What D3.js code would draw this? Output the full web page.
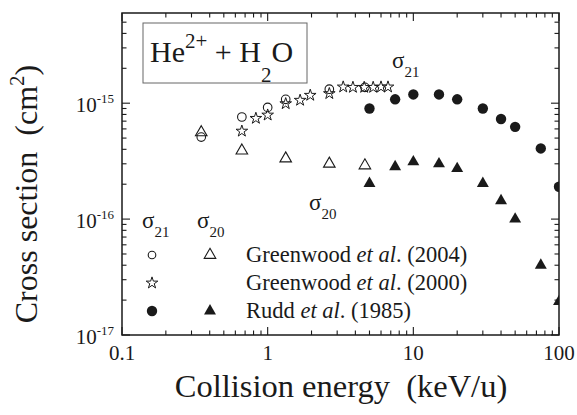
<!DOCTYPE html>
<html><head><meta charset="utf-8">
<script src="https://cdn.jsdelivr.net/npm/d3@7"></script>
<style>body{margin:0;background:#fff}svg{display:block}</style>
</head><body><svg id="c" width="577" height="415"></svg>
<script>
// Greenwood et al. (2004)
const g04E21 = [0.35, 0.665, 1.0, 1.33, 2.65, 4.65];
const g04S21 = [5.1e-16, 7.6e-16, 9.2e-16, 1.08e-15, 1.32e-15, 1.37e-15];
const g04E20 = [0.35, 0.665, 1.33, 2.65, 4.65];
const g04S20 = [5.6e-16, 3.9e-16, 3.33e-16, 3.0e-16, 2.9e-16];
// Greenwood et al. (2000)
const g00E21 = [0.665, 0.83, 1.0, 1.33, 1.67, 1.96, 2.65, 3.3, 3.85, 4.6, 5.3, 6.0, 6.7];
const g00S21 = [5.74e-16, 7.4e-16, 7.9e-16, 9.9e-16, 1.06e-15, 1.17e-15, 1.21e-15, 1.38e-15, 1.37e-15, 1.37e-15, 1.37e-15, 1.38e-15, 1.38e-15];
// Rudd et al. (1985)
const ruddE = [5, 7.5, 10, 15, 20, 30, 40, 50, 75, 100];
const ruddS21 = [9.0e-16, 1.08e-15, 1.19e-15, 1.19e-15, 1.08e-15, 9.0e-16, 7.3e-16, 6.25e-16, 4.07e-16, 1.9e-16];
const ruddS20 = [2.03e-16, 2.83e-16, 3.12e-16, 3.0e-16, 2.73e-16, 2.03e-16, 1.44e-16, 1.0e-16, 4.0e-17, 1.94e-17];
// ticks
const xMajor = [0.1, 1, 10, 100];
const xMajorLabels = ["0.1", "1", "10", "100"];
const yMajor = [1e-17, 1e-16, 1e-15];
const yMajorExp = ["-17", "-16", "-15"];
const legendLabels = [["Greenwood ", "et al", ". (2004)"], ["Greenwood ", "et al", ". (2000)"], ["Rudd ", "et al", ". (1985)"]];

const FONT = "'Liberation Serif'";
const L = 122, R = 559, T = 13, B = 335;
const svg = d3.select("#c");
const x = d3.scaleLog().domain([0.1, 100]).range([L, R]);
const y = d3.scaleLog().domain([1e-17, 6e-15]).range([B, T]);
const ink = "#1a1a1a";
function txt(sel) { return sel.append("text").attr("font-family", FONT).attr("fill", ink); }

// minor ticks
const xMinor = [];
[0.1, 1, 10].forEach(d => { for (let k = 2; k <= 9; k++) xMinor.push(d * k); });
const yMinor = [];
[1e-17, 1e-16, 1e-15].forEach(d => { for (let k = 2; k <= 9; k++) if (d * k <= 6e-15) yMinor.push(d * k); });

const tk = svg.append("g").attr("stroke", ink).attr("stroke-width", 1.1);
function xt(vals, len) {
  vals.forEach(v => {
    tk.append("line").attr("x1", x(v)).attr("x2", x(v)).attr("y1", B).attr("y2", B - len);
    tk.append("line").attr("x1", x(v)).attr("x2", x(v)).attr("y1", T).attr("y2", T + len);
  });
}
function yt(vals, len) {
  vals.forEach(v => {
    tk.append("line").attr("y1", y(v)).attr("y2", y(v)).attr("x1", L).attr("x2", L + len);
    tk.append("line").attr("y1", y(v)).attr("y2", y(v)).attr("x1", R).attr("x2", R - len);
  });
}
xt(xMajor, 8); xt(xMinor, 4.5); yt(yMajor, 8); yt(yMinor, 4.5);

// frame
svg.append("rect").attr("x", L).attr("y", T).attr("width", R - L).attr("height", B - T)
  .attr("fill", "none").attr("stroke", ink).attr("stroke-width", 1.5);

// tick labels
xMajor.forEach((d, i) => {
  txt(svg).attr("x", x(d)).attr("y", 360).attr("text-anchor", "middle")
    .attr("font-size", 21).text(xMajorLabels[i]);
});
yMajor.forEach((d, i) => {
  const t = txt(svg).attr("x", 114).attr("y", y(d) + 9).attr("text-anchor", "end").attr("font-size", 21);
  t.append("tspan").text("10");
  t.append("tspan").attr("font-size", 13).attr("dy", -9).text(yMajorExp[i]);
});

// axis titles
txt(svg).attr("x", 341).attr("y", 397).attr("text-anchor", "middle")
  .attr("font-size", 32.5).attr("xml:space", "preserve").text("Collision energy  (keV/u)");
const yt2 = txt(svg).attr("transform", "translate(37,194) rotate(-90)").attr("text-anchor", "middle")
  .attr("font-size", 32).attr("xml:space", "preserve");
yt2.append("tspan").text("Cross section  (cm");
yt2.append("tspan").attr("font-size", 21).attr("dy", -13).text("2");
yt2.append("tspan").attr("dy", 13).text(")");

// title box
svg.append("rect").attr("x", 143).attr("y", 23).attr("width", 164).attr("height", 60)
  .attr("fill", "none").attr("stroke", "#666").attr("stroke-width", 1);
const tt = txt(svg).attr("x", 150).attr("y", 62).attr("font-size", 30).attr("xml:space", "preserve");
tt.append("tspan").text("He");
tt.append("tspan").attr("font-size", 21).attr("dy", -14).text("2+");
tt.append("tspan").attr("dy", 14).text(" + H");
tt.append("tspan").attr("font-size", 21).attr("dy", 20).text("2");
tt.append("tspan").attr("dy", -20).text("O");

// sigma labels
function sigma(xp, yp, sub) {
  const t = txt(svg).attr("x", xp).attr("y", yp).attr("font-size", 23);
  t.append("tspan").text("σ");
  t.append("tspan").attr("font-size", 15).attr("dy", 9).text(sub);
}
sigma(392, 68, "21");
sigma(309, 210, "20");
sigma(142, 228, "21");
sigma(197, 228, "20");

// symbols
svg.append("defs").append("clipPath").attr("id", "clip").append("rect")
  .attr("x", L).attr("y", T).attr("width", R - L).attr("height", B - T);
const P = svg.append("g").attr("clip-path", "url(#clip)");
const tri = d3.symbol().type(d3.symbolTriangle).size(58);
const triF = d3.symbol().type(d3.symbolTriangle).size(62);
const star = d3.symbol().type(d3.symbolStar).size(42);

P.selectAll(".g04c").data(g04E21).join("circle").attr("cx", d => x(d)).attr("cy", (d, i) => y(g04S21[i]))
  .attr("r", 4.3).attr("fill", "none").attr("stroke", ink).attr("stroke-width", 1.1);
P.selectAll(".g04t").data(g04E20).join("path").attr("d", tri)
  .attr("transform", (d, i) => `translate(${x(d)},${y(g04S20[i])})`)
  .attr("fill", "none").attr("stroke", ink).attr("stroke-width", 1.1);
P.selectAll(".g00s").data(g00E21).join("path").attr("d", star)
  .attr("transform", (d, i) => `translate(${x(d)},${y(g00S21[i])})`)
  .attr("fill", "none").attr("stroke", ink).attr("stroke-width", 1);
P.selectAll(".rc").data(ruddE).join("circle").attr("cx", d => x(d)).attr("cy", (d, i) => y(ruddS21[i]))
  .attr("r", 5.2).attr("fill", ink);
P.selectAll(".rt").data(ruddE).join("path").attr("d", triF)
  .attr("transform", (d, i) => `translate(${x(d)},${y(ruddS20[i])})`).attr("fill", ink);

// legend
const rowsY = [255, 283, 311];
svg.append("circle").attr("cx", 152).attr("cy", rowsY[0]).attr("r", 3.8).attr("fill", "none").attr("stroke", ink).attr("stroke-width", 1.1);
svg.append("path").attr("d", tri).attr("transform", `translate(210,${rowsY[0]})`).attr("fill", "none").attr("stroke", ink).attr("stroke-width", 1.1);
svg.append("path").attr("d", star).attr("transform", `translate(152,${rowsY[1]})`).attr("fill", "none").attr("stroke", ink).attr("stroke-width", 1);
svg.append("circle").attr("cx", 152).attr("cy", rowsY[2]).attr("r", 5.2).attr("fill", ink);
svg.append("path").attr("d", triF).attr("transform", `translate(210,${rowsY[2]})`).attr("fill", ink);
legendLabels.forEach((lab, i) => {
  const t = txt(svg).attr("x", 246).attr("y", rowsY[i] + 7).attr("font-size", 22.5).attr("xml:space", "preserve");
  t.append("tspan").text(lab[0]);
  t.append("tspan").attr("font-style", "italic").text(lab[1]);
  t.append("tspan").text(lab[2]);
});
</script></body></html>
